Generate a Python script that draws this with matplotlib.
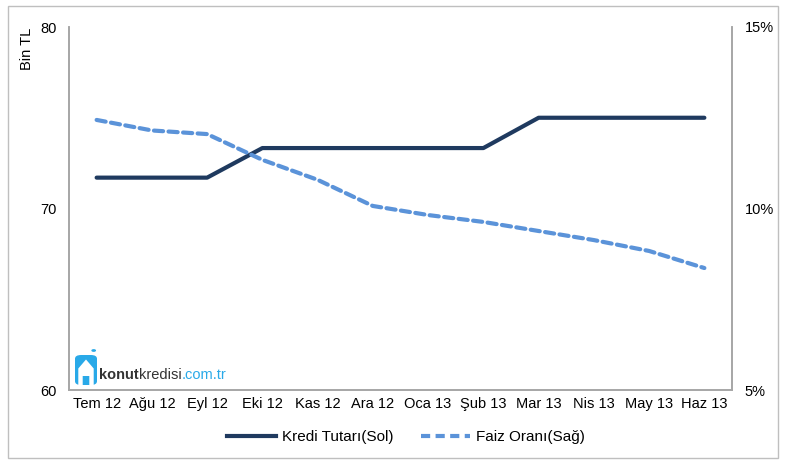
import matplotlib
matplotlib.use("Agg")
import matplotlib.pyplot as plt
from matplotlib.patches import FancyBboxPatch, Polygon, Rectangle, Circle
from matplotlib.lines import Line2D

plt.rcParams['font.family'] = ['Liberation Sans', 'DejaVu Sans']

categories = ["Tem 12", "Ağu 12", "Eyl 12", "Eki 12", "Kas 12", "Ara 12",
              "Oca 13", "Şub 13", "Mar 13", "Nis 13", "May 13", "Haz 13"]
kredi_tutari = [71.7, 71.7, 71.7, 73.33, 73.33, 73.33, 73.33, 73.33, 75.0, 75.0, 75.0, 75.0]
faiz_orani = [12.44, 12.15, 12.05, 11.34, 10.79, 10.07, 9.82, 9.63, 9.38, 9.13, 8.83, 8.36]
left_ticks = [60, 70, 80]
right_ticks = [5, 10, 15]

dark = "#1F3A5F"
light = "#5B93D9"
grey = "#A6A6A6"
fs = 10.5

fig = plt.figure(figsize=(7.86, 4.65), dpi=100)
# outer border
fig.patches.append(Rectangle((8/786, 7/465), 770/786, 452/465, transform=fig.transFigure,
                             fill=False, edgecolor="#BFBFBF", linewidth=1.0))

ax = fig.add_axes([69/786, 75/465, 663/786, 363/465])
x = list(range(len(categories)))
ax.plot(x, kredi_tutari, color=dark, linewidth=3, solid_capstyle='round', zorder=3)
ax.set_xlim(-0.5, len(categories) - 0.5)
ax.set_ylim(60, 80)
ax.set_yticks(left_ticks)
ax.set_xticks(x)
ax.set_xticklabels(categories)
ax.tick_params(length=0, labelsize=fs, pad=5)
ax.tick_params(axis='y', pad=9)
for s in ['left', 'right', 'bottom']:
    ax.spines[s].set_color(grey)
    ax.spines[s].set_linewidth(1.2)
ax.spines['top'].set_visible(False)

ax2 = ax.twinx()
ax2.plot(x, faiz_orani, color=light, linewidth=3, linestyle=(0, (2.2, 1.3)),
         dash_capstyle='round', zorder=3)
ax2.set_ylim(5, 15)
ax2.set_yticks(right_ticks)
ax2.set_yticklabels([f"{v}%" for v in right_ticks])
ax2.tick_params(length=0, labelsize=fs, pad=9)
for s in ['left', 'right', 'bottom']:
    ax2.spines[s].set_color(grey)
    ax2.spines[s].set_linewidth(1.2)
ax2.spines['top'].set_visible(False)

fig.text(27/786, 1 - 49/465, "Bin TL", rotation=90, ha='center', va='center', fontsize=fs)

# legend
handles = [Line2D([], [], color=dark, linewidth=3),
           Line2D([], [], color=light, linewidth=3, linestyle=(0, (2.2, 1.3)))]
fig.legend(handles, ["Kredi Tutarı(Sol)", "Faiz Oranı(Sağ)"], loc='center',
           bbox_to_anchor=(0.517, 1 - 437/465), ncol=2, frameon=False, fontsize=11,
           handlelength=3.2, columnspacing=1.8, handletextpad=0.4)

# logo
lx, ly = 75/786, 1 - 385/465
w, h = 22/786, 30/465
fig.patches.append(FancyBboxPatch((lx, ly), w, h, boxstyle="round,pad=0,rounding_size=0.008",
                                  transform=fig.transFigure, facecolor="#29A9E8", edgecolor="none"))
house = [(lx + 0.15*w, ly), (lx + 0.15*w, ly + 0.55*h), (lx + 0.5*w, ly + 0.85*h),
         (lx + 0.85*w, ly + 0.55*h), (lx + 0.85*w, ly), (lx + 0.65*w, ly),
         (lx + 0.65*w, ly + 0.3*h), (lx + 0.35*w, ly + 0.3*h), (lx + 0.35*w, ly)]
fig.patches.append(Polygon(house, closed=True, transform=fig.transFigure,
                           facecolor="white", edgecolor="none"))
fig.patches.append(Circle((lx + 0.85*w, ly + 1.15*h), 0.003, transform=fig.transFigure,
                          facecolor="#29A9E8", edgecolor="none"))
t0 = fig.text(lx + w + 0.003, ly + 0.35*h, "konut", fontsize=10.5, color="#333333",
              va='center', ha='left', fontweight='bold')
fig.canvas.draw()
bb = t0.get_window_extent()
t1 = fig.text(bb.x1 / fig.bbox.width, ly + 0.35*h, "kredisi", fontsize=10.5, color="#333333",
              va='center', ha='left')
fig.canvas.draw()
bb = t1.get_window_extent()
fig.text(bb.x1 / fig.bbox.width, ly + 0.35*h, ".com.tr", fontsize=10.5, color="#29A9E8",
         va='center', ha='left')

fig.savefig("out.png", dpi=100)
